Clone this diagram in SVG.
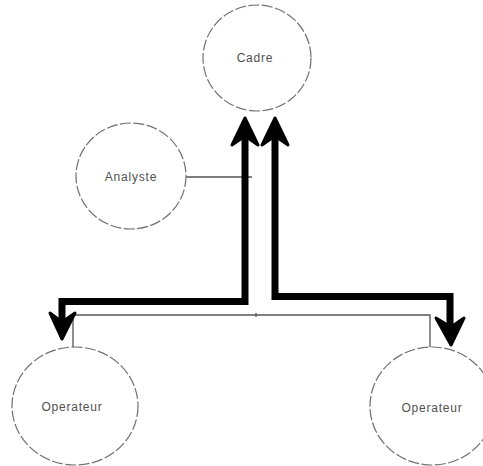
<svg xmlns="http://www.w3.org/2000/svg" width="483" height="466" viewBox="0 0 483 466">
<style>
.node ellipse{fill:#fff;stroke:#707070;stroke-width:1.2;stroke-dasharray:11 2.5}
.node text{font-family:"Liberation Sans","Open Sans",sans-serif;font-size:12px;letter-spacing:0.8px;fill:#505050;text-anchor:middle}
.thin{fill:none;stroke:#555;stroke-width:1.3}
.thick{fill:none;stroke:#000;stroke-width:7}
.head{fill:#000;stroke:#000;stroke-width:3;stroke-linejoin:round}
</style>
<rect width="483" height="466" fill="#fff"/>
<g id="connectors">
<path class="thin" d="M186,177 H252"/>
<path class="thin" d="M73,347 V315 H430 V347"/>
<path class="thin" d="M256,313 V317"/>
<path class="thick" d="M245,138 V301.5 H62 V328"/>
<path class="thick" d="M275,138 V296.5 H450 V334"/>
<polygon class="head" points="245,118 232,145 245,136 258,145"/>
<polygon class="head" points="275,118 262,145 275,136 288,145"/>
<polygon class="head" points="62,339 50,313 62,322 75,313"/>
<polygon class="head" points="451,345 436,318 451,327 464,318"/>
</g>
<g id="cadre" class="node">
<ellipse cx="257" cy="58" rx="54" ry="53"/>
<text x="255" y="62">Cadre</text>
</g>
<g id="analyste" class="node">
<ellipse cx="131" cy="176" rx="55" ry="53"/>
<text x="131" y="181">Analyste</text>
</g>
<g id="operateur1" class="node">
<ellipse cx="75" cy="406" rx="63" ry="59"/>
<text x="72" y="411">Operateur</text>
</g>
<g id="operateur2" class="node">
<ellipse cx="432" cy="406" rx="62" ry="59"/>
<text x="432" y="412">Operateur</text>
</g>
</svg>
